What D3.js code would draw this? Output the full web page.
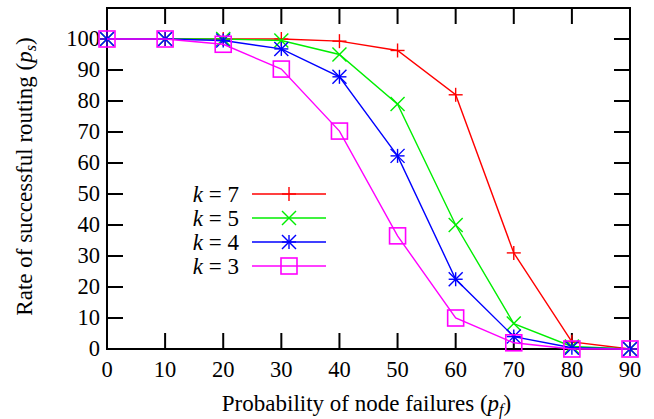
<!DOCTYPE html>
<html><head><script src="https://cdnjs.cloudflare.com/ajax/libs/d3/7.8.5/d3.min.js"></script></head>
<body style="margin:0">
<script>
    // Data
    const failures = [0, 10, 20, 30, 40, 50, 60, 70, 80, 90];
    const k7 = [100, 100, 100, 100, 99.3, 96.3, 82, 31, 2.3, 0];
    const k5 = [100, 100, 100, 99.5, 95, 79, 40, 8.2, 0.8, 0];
    const k4 = [100, 100, 99.5, 96.8, 87.8, 62.3, 22.5, 4, 0.4, 0];
    const k3 = [100, 100, 98.3, 90.3, 70.3, 36.5, 10, 2, 0, 0];
    const xTicks = [0, 10, 20, 30, 40, 50, 60, 70, 80, 90];
    const yTicks = [0, 10, 20, 30, 40, 50, 60, 70, 80, 90, 100];

    const series = [
        { k: 7, values: k7, color: "#ff0000", marker: "plus" },
        { k: 5, values: k5, color: "#00ee00", marker: "cross" },
        { k: 4, values: k4, color: "#0000ff", marker: "star" },
        { k: 3, values: k3, color: "#ff00ff", marker: "box" }
    ];

    const FONT = `"Liberation Serif"`;
    const width = 654, height = 419;
    const margin = { top: 8, right: 24, bottom: 70, left: 107 };
    const tickLen = 16;

    const svg = d3.select("body").append("svg")
        .attr("width", width)
        .attr("height", height);

    const x = d3.scaleLinear().domain([0, 90]).range([margin.left, width - margin.right]);
    const y = d3.scaleLinear().domain([0, 110]).range([height - margin.bottom, margin.top]);

    // Small helper so every label gets the same font
    function label(parent, size) {
        return parent.append("text").style("font-family", FONT).attr("font-size", size).attr("fill", "#000");
    }

    // Ticks, inward, mirrored on top/right
    const ticks = svg.append("g").attr("stroke", "#000").attr("stroke-width", 2);
    xTicks.slice(1, -1).forEach(v => {
        ticks.append("line").attr("x1", x(v)).attr("x2", x(v)).attr("y1", y(0)).attr("y2", y(0) - tickLen);
        ticks.append("line").attr("x1", x(v)).attr("x2", x(v)).attr("y1", y(110)).attr("y2", y(110) + tickLen);
    });
    yTicks.slice(1).forEach(v => {
        ticks.append("line").attr("x1", x(0)).attr("x2", x(0) + tickLen).attr("y1", y(v)).attr("y2", y(v));
        ticks.append("line").attr("x1", x(90)).attr("x2", x(90) - tickLen).attr("y1", y(v)).attr("y2", y(v));
    });

    xTicks.forEach(v => label(svg, 22.5).attr("x", x(v)).attr("y", y(0) + 28)
        .attr("text-anchor", "middle").text(v));
    yTicks.forEach(v => label(svg, 22.5).attr("x", x(0) - 7).attr("y", y(v) + 7)
        .attr("text-anchor", "end").text(v));

    // Frame
    svg.append("rect")
        .attr("x", x(0)).attr("y", y(110))
        .attr("width", x(90) - x(0)).attr("height", y(0) - y(110))
        .attr("fill", "none").attr("stroke", "#000").attr("stroke-width", 2);

    // Axis labels
    const xl = label(svg, 23)
        .attr("x", (x(0) + x(90)) / 2 - 2).attr("y", 411)
        .attr("text-anchor", "middle");
    xl.append("tspan").text("Probability of node failures (");
    xl.append("tspan").attr("font-style", "italic").text("p");
    xl.append("tspan").attr("font-style", "italic").attr("font-size", 16).attr("dy", 4).text("f");
    xl.append("tspan").attr("dy", -4).text(")");

    const yl = label(svg, 23)
        .attr("transform", `translate(32,${(y(0) + y(110)) / 2 - 2}) rotate(-90)`)
        .attr("text-anchor", "middle");
    yl.append("tspan").text("Rate of successful routing (");
    yl.append("tspan").attr("font-style", "italic").text("p");
    yl.append("tspan").attr("font-style", "italic").attr("font-size", 16).attr("dy", 4).text("s");
    yl.append("tspan").attr("dy", -4).text(")");

    // Markers
    function drawMarker(g, type, cx, cy, color) {
        const s = 7;
        const m = g.append("g").attr("transform", `translate(${cx},${cy})`)
            .attr("stroke", color).attr("stroke-width", 1.4).attr("fill", "none");
        if (type === "plus" || type === "star") {
            m.append("line").attr("x1", -s).attr("x2", s).attr("y1", 0).attr("y2", 0);
            m.append("line").attr("x1", 0).attr("x2", 0).attr("y1", -s).attr("y2", s);
        }
        if (type === "cross" || type === "star") {
            m.append("line").attr("x1", -s).attr("x2", s).attr("y1", -s).attr("y2", s);
            m.append("line").attr("x1", -s).attr("x2", s).attr("y1", s).attr("y2", -s);
        }
        if (type === "box") {
            m.append("rect").attr("x", -8).attr("y", -8).attr("width", 16).attr("height", 16)
                .attr("stroke-width", 1.6);
        }
    }

    const line = d3.line().x((d, i) => x(failures[i])).y(d => y(d));

    series.forEach(s => {
        const g = svg.append("g");
        g.append("path").datum(s.values)
            .attr("d", line)
            .attr("fill", "none").attr("stroke", s.color).attr("stroke-width", 1.4);
        s.values.forEach((v, i) => drawMarker(g, s.marker, x(failures[i]), y(v), s.color));
    });

    // Legend
    const legend = svg.append("g");
    series.forEach((s, i) => {
        const ly = 194 + i * 24;
        const t = label(legend, 23)
            .attr("x", 239).attr("y", ly + 8)
            .attr("text-anchor", "end");
        t.append("tspan").attr("font-style", "italic").text("k");
        t.append("tspan").text(" = " + s.k);
        legend.append("line")
            .attr("x1", 252).attr("x2", 326).attr("y1", ly).attr("y2", ly)
            .attr("stroke", s.color).attr("stroke-width", 1.4);
        drawMarker(legend, s.marker, 289, ly, s.color);
    });
</script>
</body>
</html>
